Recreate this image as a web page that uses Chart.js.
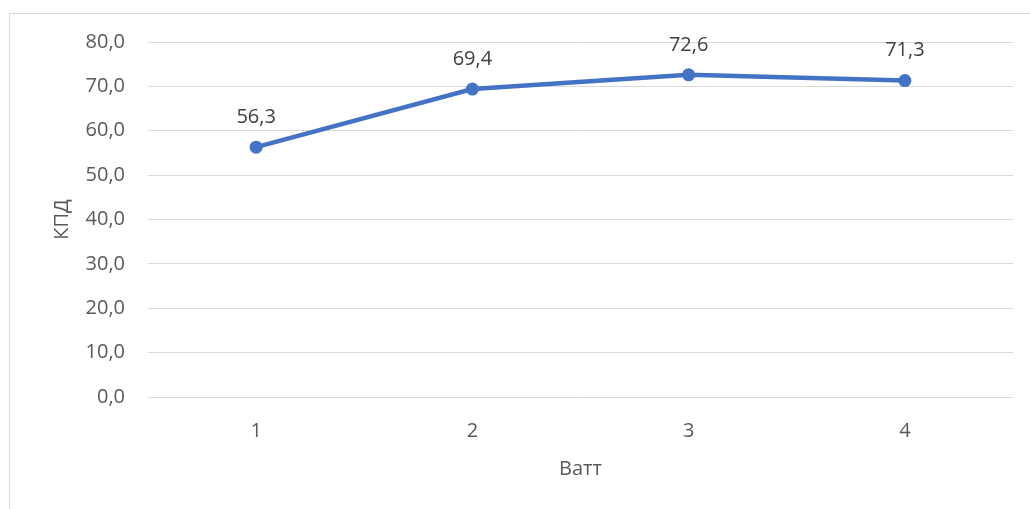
<!DOCTYPE html>
<html>
<head>
<meta charset="utf-8">
<script src="https://cdn.jsdelivr.net/npm/chart.js@4/dist/chart.umd.min.js"></script>
<style>
  html, body { margin: 0; padding: 0; background: #ffffff; }
  #wrap { position: relative; width: 1030px; height: 509px; }
</style>
</head>
<body>
<div id="wrap"><canvas id="c" width="1030" height="509"></canvas></div>
<script>
// Efficiency (КПД) versus power (Ватт)
const categories = ['1', '2', '3', '4'];
const efficiency = [56.3, 69.4, 72.6, 71.3];
const yTicks = [0, 10, 20, 30, 40, 50, 60, 70, 80];

const FONT = "'Open Sans', 'DejaVu Sans', sans-serif";
const fmt = v => v.toFixed(1).replace('.', ',');

// Light frame around the whole chart object
const framePlugin = {
  id: 'frame',
  beforeDraw(chart) {
    const ctx = chart.ctx;
    ctx.save();
    ctx.fillStyle = '#ffffff';
    ctx.fillRect(0, 0, chart.width, chart.height);
    ctx.strokeStyle = '#d9d9d9';
    ctx.lineWidth = 1;
    ctx.strokeRect(9.5, 13.5, chart.width + 20, chart.height + 20);
    ctx.restore();
  }
};

// Value labels above each point
const valueLabels = {
  id: 'valueLabels',
  afterDatasetsDraw(chart) {
    const ctx = chart.ctx;
    ctx.save();
    ctx.font = '20px ' + FONT;
    ctx.fillStyle = '#404040';
    ctx.textAlign = 'center';
    ctx.textBaseline = 'middle';
    chart.data.datasets.forEach((ds, i) => {
      chart.getDatasetMeta(i).data.forEach((pt, j) => {
        ctx.fillText(fmt(ds.data[j]), pt.x, pt.y - 30);
      });
    });
    ctx.restore();
  }
};

new Chart(document.getElementById('c'), {
  type: 'line',
  data: {
    labels: categories,
    datasets: [{
      data: efficiency,
      borderColor: '#4472C4',
      backgroundColor: '#4472C4',
      borderWidth: 4.5,
      pointRadius: 6.5,
      pointHoverRadius: 6.5,
      pointBorderWidth: 0,
      tension: 0,
      fill: false
    }]
  },
  options: {
    responsive: false,
    animation: false,
    devicePixelRatio: 1,
    layout: { padding: { top: 42, right: 17, bottom: 0, left: 0 } },
    plugins: {
      legend: { display: false },
      tooltip: { enabled: false }
    },
    scales: {
      x: {
        offset: true,
        grid: { display: false },
        border: { display: false },
        ticks: {
          color: '#595959',
          font: { family: FONT, size: 20 },
          padding: 14,
          maxRotation: 0
        },
        title: {
          display: true,
          text: 'Ватт',
          color: '#595959',
          font: { family: FONT, size: 20 },
          padding: { top: 0, bottom: 28 }
        },
        afterFit(scale) { scale.height = 509 - 397; }
      },
      y: {
        min: 0,
        max: 80,
        afterBuildTicks(scale) { scale.ticks = yTicks.map(v => ({ value: v })); },
        grid: { color: '#d9d9d9', lineWidth: 1, drawTicks: false },
        border: { display: false },
        ticks: {
          color: '#595959',
          font: { family: FONT, size: 20 },
          padding: 23,
          callback: v => fmt(v)
        },
        title: {
          display: true,
          text: 'КПД',
          color: '#595959',
          font: { family: FONT, size: 20 },
          padding: { top: 50, bottom: 0 }
        },
        afterFit(scale) { scale.width = 148; }
      }
    }
  },
  plugins: [framePlugin, valueLabels]
});
</script>
</body>
</html>
